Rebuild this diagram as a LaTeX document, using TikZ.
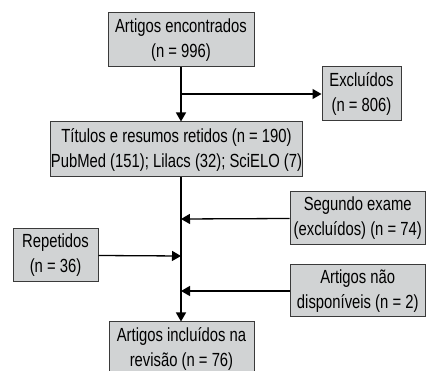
\documentclass[tikz,border=0pt]{standalone}
\usepackage{fontspec}
\setmainfont[FakeStretch=0.78]{Liberation Sans}
\usetikzlibrary{arrows.meta}
\definecolor{boxfill}{HTML}{D1D3D4}
\definecolor{boxline}{HTML}{3A3A3A}
\begin{document}
\begin{tikzpicture}[x=1pt,y=-1pt,
  box/.style={draw=boxline,fill=boxfill,line width=1pt,align=center,inner sep=0pt,
    font=\fontsize{19}{25}\selectfont},
  conn/.style={line width=1.3pt,draw=black},
  arr/.style={conn,-{Triangle[length=9pt,width=10pt]}}]
\useasboundingbox (0,0) rectangle (426,371);
\node[box,minimum width=146pt,minimum height=54pt] (found) at (181,40) {Artigos encontrados\\(n = 996)};
\node[box,minimum width=79pt,minimum height=54pt] (excl) at (361.5,94) {Excluídos\\(n = 806)};
\node[box,minimum width=245pt,minimum height=55pt] (ret) at (176.5,149.5) {Títulos e resumos retidos (n = 190)\\PubMed (151); Lilacs (32); SciELO (7)};
\node[box,minimum width=135.5pt,minimum height=53pt] (seg) at (357.75,218.5) {Segundo exame\\(excluídos) (n = 74)};
\node[box,minimum width=85pt,minimum height=53pt] (rep) at (55.5,255.5) {Repetidos\\(n = 36)};
\node[box,minimum width=135.5pt,minimum height=52pt] (nd) at (357.75,291) {Artigos não\\disponíveis (n = 2)};
\node[box,minimum width=145pt,minimum height=54pt] (incl) at (181.5,349) {Artigos incluídos na\\revisão (n = 76)};
\coordinate (b1) at (181,94);
\coordinate (j1) at (181,219);
\coordinate (j2) at (181,256);
\coordinate (j3) at (181,291);
\draw[arr] (found.south -| b1) -- (ret.north -| b1);
\draw[arr] (b1) -- (excl.west);
\draw[arr] (ret.south -| b1) -- (incl.north -| b1);
\draw[arr] (seg.west) -- (j1);
\draw[arr] (rep.east) -- (j2);
\draw[arr] (nd.west) -- (j3);
\end{tikzpicture}
\end{document}
